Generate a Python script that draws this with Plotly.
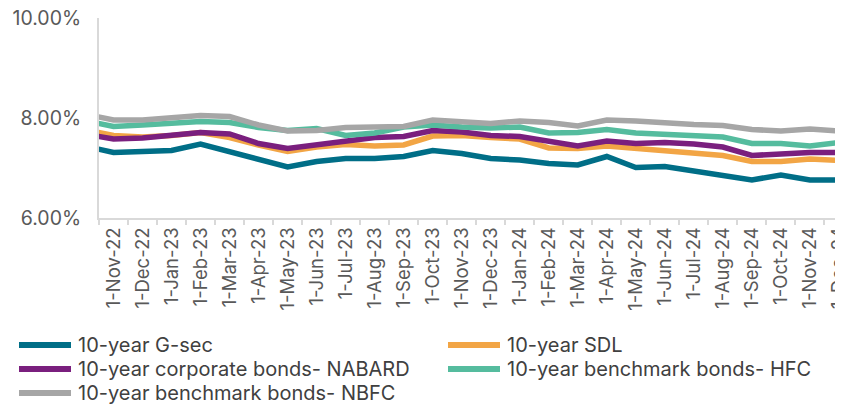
import plotly.graph_objects as go

# monthly observations; Oct-22 sits just left of the visible window
months = ["1-Oct-22", "1-Nov-22", "1-Dec-22", "1-Jan-23", "1-Feb-23", "1-Mar-23", "1-Apr-23",
          "1-May-23", "1-Jun-23", "1-Jul-23", "1-Aug-23", "1-Sep-23", "1-Oct-23", "1-Nov-23",
          "1-Dec-23", "1-Jan-24", "1-Feb-24", "1-Mar-24", "1-Apr-24", "1-May-24", "1-Jun-24",
          "1-Jul-24", "1-Aug-24", "1-Sep-24", "1-Oct-24", "1-Nov-24", "1-Dec-24"]

gsec = [7.44, 7.31, 7.33, 7.35, 7.48, 7.32, 7.17, 7.02, 7.13, 7.19, 7.19, 7.23, 7.35, 7.29,
        7.19, 7.16, 7.09, 7.06, 7.23, 7.01, 7.03, 6.94, 6.87, 6.76, 6.86, 6.76, 6.76]
sdl = [7.77, 7.65, 7.62, 7.65, 7.71, 7.61, 7.46, 7.33, 7.42, 7.47, 7.44, 7.46, 7.64, 7.65,
       7.61, 7.58, 7.40, 7.39, 7.44, 7.39, 7.35, 7.31, 7.25, 7.13, 7.13, 7.18, 7.15]
nabard = [7.68, 7.58, 7.60, 7.65, 7.71, 7.68, 7.49, 7.39, 7.47, 7.53, 7.61, 7.63, 7.75, 7.72,
          7.65, 7.63, 7.54, 7.44, 7.54, 7.49, 7.51, 7.48, 7.42, 7.25, 7.28, 7.31, 7.31]
hfc = [7.95, 7.83, 7.86, 7.89, 7.93, 7.91, 7.81, 7.75, 7.79, 7.65, 7.70, 7.82, 7.86, 7.82,
       7.80, 7.82, 7.70, 7.71, 7.77, 7.70, 7.67, 7.65, 7.62, 7.49, 7.49, 7.44, 7.51]
nbfc = [8.08, 7.96, 7.96, 8.00, 8.05, 8.03, 7.86, 7.74, 7.75, 7.81, 7.82, 7.83, 7.96, 7.93,
        7.89, 7.94, 7.91, 7.84, 7.96, 7.94, 7.90, 7.87, 7.85, 7.77, 7.74, 7.78, 7.74]

y_ticks = [6, 8, 10]
y_tick_text = ["6.00%", "8.00%", "10.00%"]

series = [
    ("10-year G-sec", gsec, "#006E87"),
    ("10-year SDL", sdl, "#F2A545"),
    ("10-year corporate bonds- NABARD", nabard, "#7A1F7E"),
    ("10-year benchmark bonds- HFC", hfc, "#55BC9E"),
    ("10-year benchmark bonds- NBFC", nbfc, "#A6A6A6"),
]

# the page body adds an 8px margin, so the figure is laid out 8px up/left
OFF = 8
W, H = 843 - OFF, 407 - OFF
L, R, T, B = 99 - OFF, 0, 18 - OFF, 197 - OFF
plot_w = W - L - R
plot_h = H - T - B

FONT = "Inter, Roboto, Liberation Sans, sans-serif"

fig = go.Figure()
for name, vals, color in series:
    fig.add_trace(go.Scatter(x=months, y=vals, name=name, mode="lines",
                             line=dict(color=color, width=5.5),
                             showlegend=False))


# legend drawn by hand so the line samples match the long Excel swatches
# (positions given in window pixels)
def px_x(px):
    return (px - OFF - L) / plot_w


def px_y(py):
    return (H - B - (py - OFF)) / plot_h


legend_slots = [(17, 345), (446, 345), (17, 369), (446, 369), (17, 393)]
for (name, vals, color), (lx, ly) in zip(series, legend_slots):
    fig.add_shape(type="line", xref="paper", yref="paper",
                  x0=px_x(lx + 2), x1=px_x(lx + 54), y0=px_y(ly), y1=px_y(ly),
                  line=dict(color=color, width=6))
    fig.add_annotation(xref="paper", yref="paper", x=px_x(lx + 59), y=px_y(ly),
                       xanchor="left", yanchor="middle", showarrow=False, text=name,
                       font=dict(family=FONT, size=20, color="#404040"))

fig.update_xaxes(type="category", range=[0.5, 26.14], tickson="boundaries", automargin=False,
                 ticks="outside", ticklen=5, tickcolor="#D9D9D9", tickwidth=1.5,
                 showline=True, linecolor="#D9D9D9", linewidth=2,
                 showgrid=False, zeroline=False, tickangle=-90, ticklabelstandoff=0,
                 ticklabeloverflow="allow",
                 tickfont=dict(family=FONT, size=18.5, color="#595959"))
fig.update_yaxes(range=[6, 10], tickmode="array", tickvals=y_ticks, ticktext=y_tick_text,
                 automargin=False, showline=True, linecolor="#D9D9D9", linewidth=2,
                 showgrid=False, zeroline=False, ticks="", ticklabelstandoff=12,
                 ticklabeloverflow="allow",
                 tickfont=dict(family=FONT, size=19.5, color="#595959"))

fig.update_layout(width=W, height=H, margin=dict(l=L, r=R, t=T, b=B),
                  plot_bgcolor="white", paper_bgcolor="white")

fig.write_html("out.html")
